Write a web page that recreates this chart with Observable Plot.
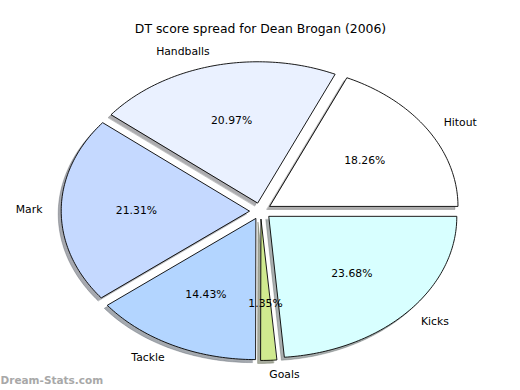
<!DOCTYPE html>
<html>
<head>
<meta charset="utf-8">
<script src="https://cdn.jsdelivr.net/npm/d3@7"></script>
<script src="https://cdn.jsdelivr.net/npm/@observablehq/plot@0.6"></script>
<style>
  html, body { margin: 0; padding: 0; background: #fff; }
  svg { display: block; }
</style>
</head>
<body>
<div id="chart"></div>
<script>
const title = "DT score spread for Dean Brogan (2006)";
const watermark = "Dream-Stats.com";
const categories = ["Hitout", "Handballs", "Mark", "Tackle", "Goals", "Kicks"];
const percents = [18.26, 20.97, 21.31, 14.43, 1.35, 23.68];
const colors = ["#ffffff", "#eaf1ff", "#c5d9ff", "#b3d5ff", "#d0ea8f", "#d8ffff"];

const explode = 0.06;
const labelDistance = 1.1;
const pctDistance = 0.6;

const total = d3.sum(percents);
let acc = 0;
const slices = categories.map((name, i) => {
  const t1 = acc / total * 2 * Math.PI;
  acc += percents[i];
  const t2 = acc / total * 2 * Math.PI;
  const tm = (t1 + t2) / 2;
  const ox = explode * Math.cos(tm), oy = explode * Math.sin(tm);
  return {name, value: percents[i], color: colors[i], t1, t2, tm, ox, oy};
});

// wedge outlines (geometry from the data angles)
const wedgePts = [];
for (const s of slices) {
  wedgePts.push({name: s.name, color: s.color, x: s.ox, y: s.oy});
  const n = Math.max(4, Math.ceil((s.t2 - s.t1) / (Math.PI / 180)));
  for (let k = 0; k <= n; k++) {
    const t = s.t1 + (s.t2 - s.t1) * k / n;
    wedgePts.push({name: s.name, color: s.color, x: s.ox + Math.cos(t), y: s.oy + Math.sin(t)});
  }
}
const shadowColor = c => { const r = d3.rgb(c); return d3.rgb(r.r*0.3, r.g*0.3, r.b*0.3).formatHex(); };

const labels = slices.map(s => ({
  name: s.name,
  x: s.ox + labelDistance * Math.cos(s.tm),
  y: s.oy + labelDistance * Math.sin(s.tm),
  anchor: Math.cos(s.tm) > 0 ? "start" : "end"
}));
const pcts = slices.map(s => ({
  text: s.value.toFixed(2) + "%",
  x: s.ox + pctDistance * Math.cos(s.tm),
  y: s.oy + pctDistance * Math.sin(s.tm)
}));

const W = 520, H = 390;
const cx = 260, cy = 210.5, rx = 188, ry = 141;

const plot = Plot.plot({
  width: W, height: H,
  margin: 0,
  x: {domain: [-cx / rx, (W - cx) / rx], range: [0, W], axis: null},
  y: {domain: [-(H - cy) / ry, cy / ry], range: [H, 0], axis: null},
  style: {fontFamily: "DejaVu Sans, sans-serif", background: "#fff"},
  marks: [
    Plot.line(wedgePts, {x: "x", y: "y", z: "name", curve: "linear-closed",
      fill: d => shadowColor(d.color), fillOpacity: 0.45, stroke: d => shadowColor(d.color), strokeOpacity: 0.3, strokeWidth: 1, dx: -3, dy: 3}),
    Plot.line(wedgePts, {x: "x", y: "y", z: "name", curve: "linear-closed",
      fill: d => d.color, stroke: "#000", strokeWidth: 0.9}),
    Plot.text(labels.filter(d => d.anchor === "start"), {x: "x", y: "y", text: "name", textAnchor: "start", fontSize: 10.8, fill: "#000"}),
    Plot.text(labels.filter(d => d.anchor === "end"), {x: "x", y: "y", text: "name", textAnchor: "end", fontSize: 10.8, fill: "#000"}),
    Plot.text(pcts, {x: "x", y: "y", text: "text", fontSize: 10.8, fill: "#000"}),
    Plot.text([title], {frameAnchor: "top", dy: 24, text: d => d, fontSize: 12.4, fill: "#000"}),
    Plot.text([watermark], {frameAnchor: "bottom-left", dx: 0, dy: -7, text: d => d, fontSize: 10.5, fontWeight: "bold", fill: "#a8a8a8"})
  ]
});
document.getElementById("chart").appendChild(plot);
</script>
</body>
</html>
